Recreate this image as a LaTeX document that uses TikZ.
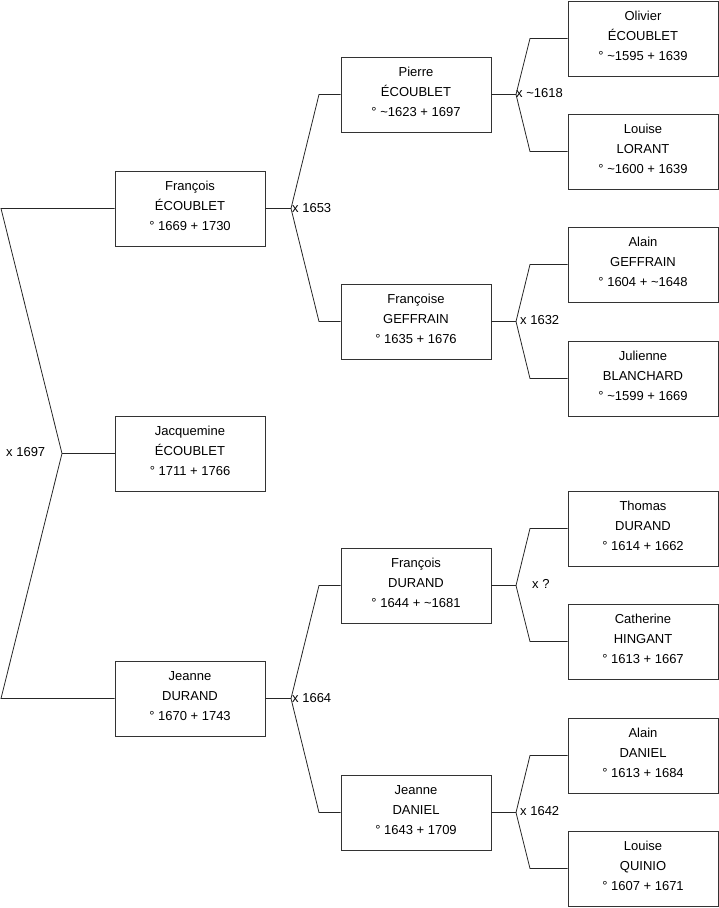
\documentclass[tikz,border=0pt]{standalone}
\usepackage{fontspec}
\setmainfont{Liberation Sans}
\begin{document}
\begin{tikzpicture}[x=1pt,y=-1pt,
  person/.style={draw=black!80,line width=0.8pt,rectangle,minimum width=150pt,minimum height=75pt,
    align=center,inner sep=0pt,text depth=4.5pt,font=\fontsize{13}{20}\selectfont},
  link/.style={draw=black!85,line width=0.8pt},
  mlabel/.style={anchor=west,inner sep=0pt,font=\fontsize{13}{15}\selectfont}]
\useasboundingbox (0,0) rectangle (719,908);
% level 1
\node[person] (fe) at (190,208.5) {François\\ÉCOUBLET\\° 1669 + 1730};
\node[person] (jq) at (190,453.5) {Jacquemine\\ÉCOUBLET\\° 1711 + 1766};
\node[person] (jd) at (190,698.5) {Jeanne\\DURAND\\° 1670 + 1743};
% level 2
\node[person] (pe) at (416,94.5) {Pierre\\ÉCOUBLET\\° \textasciitilde1623 + 1697};
\node[person] (fg) at (416,321.5) {Françoise\\GEFFRAIN\\° 1635 + 1676};
\node[person] (fd) at (416,585.5) {François\\DURAND\\° 1644 + \textasciitilde1681};
\node[person] (jn) at (416,812.5) {Jeanne\\DANIEL\\° 1643 + 1709};
% level 3
\node[person] (oe) at (643,38.5) {Olivier\\ÉCOUBLET\\° \textasciitilde1595 + 1639};
\node[person] (ll) at (643,151.5) {Louise\\LORANT\\° \textasciitilde1600 + 1639};
\node[person] (ag) at (643,264.5) {Alain\\GEFFRAIN\\° 1604 + \textasciitilde1648};
\node[person] (jb) at (643,378.5) {Julienne\\BLANCHARD\\° \textasciitilde1599 + 1669};
\node[person] (td) at (643,528.5) {Thomas\\DURAND\\° 1614 + 1662};
\node[person] (ch) at (643,641.5) {Catherine\\HINGANT\\° 1613 + 1667};
\node[person] (ad) at (643,755.5) {Alain\\DANIEL\\° 1613 + 1684};
\node[person] (lq) at (643,868.5) {Louise\\QUINIO\\° 1607 + 1671};
% root couple
\coordinate (r0) at (1,208.5);
\coordinate (rj) at (62,453.5);
\coordinate (r2) at (1,698.5);
\draw[link] (fe.west) -- (r0) -- (rj) -- (r2) -- (jd.west);
\draw[link] (rj) -- (jq.west);
\node[mlabel] (m0) at (6,452) {x 1697};
% level 2 couples
\coordinate (j1) at (291,208.5);
\coordinate (j1a) at (319,94.5);
\coordinate (j1b) at (319,321.5);
\draw[link] (fe.east) -- (j1) -- (j1a) -- (pe.west);
\draw[link] (j1) -- (j1b) -- (fg.west);
\node[mlabel] (m1) at (292,208) {x 1653};
\coordinate (j2) at (291,698.5);
\coordinate (j2a) at (319,585.5);
\coordinate (j2b) at (319,812.5);
\draw[link] (jd.east) -- (j2) -- (j2a) -- (fd.west);
\draw[link] (j2) -- (j2b) -- (jn.west);
\node[mlabel] (m2) at (292,698) {x 1664};
% level 3 couples
\coordinate (k1) at (516,94.5);
\coordinate (k1a) at (530,38.5);
\coordinate (k1b) at (530,151.5);
\draw[link] (pe.east) -- (k1) -- (k1a) -- (oe.west);
\draw[link] (k1) -- (k1b) -- (ll.west);
\node[mlabel] (m3) at (516,93) {x \textasciitilde1618};
\coordinate (k2) at (516,321.5);
\coordinate (k2a) at (530,264.5);
\coordinate (k2b) at (530,378.5);
\draw[link] (fg.east) -- (k2) -- (k2a) -- (ag.west);
\draw[link] (k2) -- (k2b) -- (jb.west);
\node[mlabel] (m4) at (520,320) {x 1632};
\coordinate (k3) at (516,585.5);
\coordinate (k3a) at (530,528.5);
\coordinate (k3b) at (530,641.5);
\draw[link] (fd.east) -- (k3) -- (k3a) -- (td.west);
\draw[link] (k3) -- (k3b) -- (ch.west);
\node[mlabel] (m5) at (532,584) {x ?};
\coordinate (k4) at (516,812.5);
\coordinate (k4a) at (530,755.5);
\coordinate (k4b) at (530,868.5);
\draw[link] (jn.east) -- (k4) -- (k4a) -- (ad.west);
\draw[link] (k4) -- (k4b) -- (lq.west);
\node[mlabel] (m6) at (520,811) {x 1642};
\end{tikzpicture}
\end{document}
